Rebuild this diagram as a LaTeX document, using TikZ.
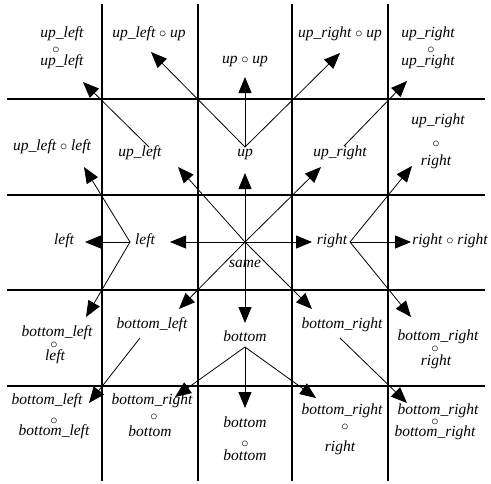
\documentclass[tikz,border=0pt]{standalone}
\usepackage{fontspec}
\setmainfont{Liberation Serif}
\usetikzlibrary{arrows.meta}
\begin{document}
\begin{tikzpicture}[x=1pt,y=-1pt,
  lbl/.style={font=\itshape\fontsize{15.5}{15.5}\selectfont, inner sep=0pt, anchor=mid},
  opc/.style={font=\fontsize{14}{14}\selectfont, inner sep=0pt, anchor=mid},
  gridline/.style={line width=2.2pt},
  arr/.style={line width=0.8pt, -{Triangle[length=16pt,width=13pt]}}
]
\useasboundingbox (0,0) rectangle (491,483);
% grid
\foreach \x/\n in {102/v1,198/v2,292/v3,388/v4} {
  \coordinate (\n t) at (\x,4); \coordinate (\n b) at (\x,481);
  \draw[gridline] (\n t) -- (\n b);
}
\foreach \y/\n in {99/h1,195/h2,290/h3,386/h4} {
  \coordinate (\n l) at (7,\y); \coordinate (\n r) at (485,\y);
  \draw[gridline] (\n l) -- (\n r);
}
% row 0
\node[lbl] (a00) at (62,35) {up\_left};
\node[opc] (a00c) at (56,51) {$\circ$};
\node[lbl] (a00b) at (62,63) {up\_left};
\node[lbl] (a10) at (149,35) {up\_left $\circ$ up};
\node[lbl] (a20) at (245,61) {up $\circ$ up};
\node[lbl] (a30) at (340,35) {up\_right $\circ$ up};
\node[lbl] (a40) at (428,35) {up\_right};
\node[opc] (a40c) at (431,51) {$\circ$};
\node[lbl] (a40b) at (428,63) {up\_right};
% row 1
\node[lbl] (a01) at (52,148) {up\_left $\circ$ left};
\node[lbl] (a11) at (140,154) {up\_left};
\node[lbl] (a21) at (245,154) {up};
\node[lbl] (a31) at (340,154) {up\_right};
\node[lbl] (a41) at (438,122) {up\_right};
\node[opc] (a41c) at (436,145) {$\circ$};
\node[lbl] (a41b) at (436,163) {right};
% row 2
\node[lbl] (a02) at (64,242) {left};
\node[lbl] (a12) at (145,242) {left};
\node[lbl] (a22) at (245,265) {same};
\node[lbl] (a32) at (332,242) {right};
\node[lbl] (a42) at (450,242) {right $\circ$ right};
% row 3
\node[lbl] (a03) at (57,334) {bottom\_left};
\node[opc] (a03c) at (54,346) {$\circ$};
\node[lbl] (a03b) at (55,358) {left};
\node[lbl] (a13) at (152,326) {bottom\_left};
\node[lbl] (a23) at (245,339) {bottom};
\node[lbl] (a33) at (342,326) {bottom\_right};
\node[lbl] (a43) at (438,338) {bottom\_right};
\node[opc] (a43c) at (435,350) {$\circ$};
\node[lbl] (a43b) at (436,363) {right};
% row 4
\node[lbl] (a04) at (47,402) {bottom\_left};
\node[opc] (a04c) at (54,422) {$\circ$};
\node[lbl] (a04b) at (54,433) {bottom\_left};
\node[lbl] (a14) at (152,402) {bottom\_right};
\node[opc] (a14c) at (154,418) {$\circ$};
\node[lbl] (a14b) at (150,434) {bottom};
\node[lbl] (a24) at (245,425) {bottom};
\node[opc] (a24c) at (245,445) {$\circ$};
\node[lbl] (a24b) at (245,458) {bottom};
\node[lbl] (a34) at (342,412) {bottom\_right};
\node[opc] (a34c) at (345,428) {$\circ$};
\node[lbl] (a34b) at (340,449) {right};
\node[lbl] (a44) at (438,412) {bottom\_right};
\node[opc] (a44c) at (435,423) {$\circ$};
\node[lbl] (a44b) at (435,434) {bottom\_right};
% arrow start points
\coordinate (sUL) at (149,147);
\coordinate (sU) at (245,147);
\coordinate (sUR) at (344,146);
\coordinate (sC) at (245,242);
\coordinate (sL) at (130,242);
\coordinate (sR) at (350,242);
\coordinate (sBL) at (140,338);
\coordinate (sB) at (245,347);
\coordinate (sBR) at (340,338);
% tips
\coordinate (tUL) at (83,82);
\coordinate (tUa) at (151,52);
\coordinate (tUb) at (245,77);
\coordinate (tUc) at (340,53);
\coordinate (tUR) at (407,81);
\coordinate (tC1) at (245,173);
\coordinate (tC2) at (178,167);
\coordinate (tC3) at (321,167);
\coordinate (tC4) at (170,242);
\coordinate (tC5) at (312,242);
\coordinate (tC6) at (179,309);
\coordinate (tC7) at (245,323);
\coordinate (tC8) at (312,309);
\coordinate (tL1) at (85,242);
\coordinate (tL2) at (84,167);
\coordinate (tL3) at (86,317);
\coordinate (tR1) at (411,242);
\coordinate (tR2) at (412,166);
\coordinate (tR3) at (411,317);
\coordinate (tBL) at (89,403);
\coordinate (tB1) at (245,408);
\coordinate (tB2) at (175,397);
\coordinate (tB3) at (316,398);
\coordinate (tBR) at (407,403);
% arrows
\draw[arr] (sUL) -- (tUL);
\draw[arr] (sU) -- (tUa);
\draw[arr] (sU) -- (tUb);
\draw[arr] (sU) -- (tUc);
\draw[arr] (sUR) -- (tUR);
\foreach \t in {tC1,tC2,tC3,tC4,tC5,tC6,tC7,tC8} \draw[arr] (sC) -- (\t);
\foreach \t in {tL1,tL2,tL3} \draw[arr] (sL) -- (\t);
\foreach \t in {tR1,tR2,tR3} \draw[arr] (sR) -- (\t);
\draw[arr] (sBL) -- (tBL);
\foreach \t in {tB1,tB2,tB3} \draw[arr] (sB) -- (\t);
\draw[arr] (sBR) -- (tBR);
\end{tikzpicture}
\end{document}
